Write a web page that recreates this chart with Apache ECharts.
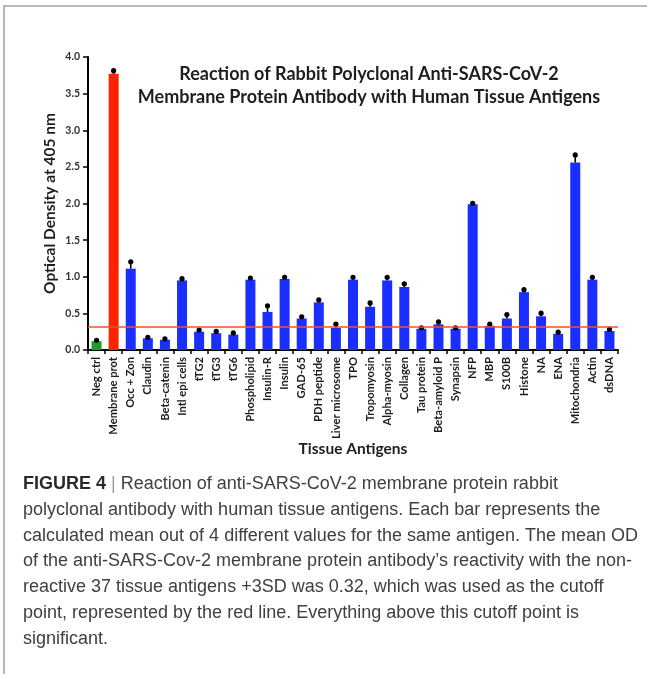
<!DOCTYPE html>
<html>
<head>
<meta charset="utf-8">
<script src="https://cdn.jsdelivr.net/npm/echarts@6/dist/echarts.min.js"></script>
<style>
  html, body { margin: 0; padding: 0; background: #fff; }
  #chart { width: 647px; height: 674px; }
</style>
</head>
<body>
<div id="chart"></div>
<script>
// Tissue antigens tested against the anti-SARS-CoV-2 membrane protein antibody
const antigens = [
  'Neg ctrl', 'Membrane prot', 'Occ + Zon', 'Claudin', 'Beta-catenin', 'Intl epi cells',
  'tTG2', 'tTG3', 'tTG6', 'Phospholipid', 'Insulin-R', 'Insulin', 'GAD-65', 'PDH peptide',
  'Liver microsome', 'TPO', 'Tropomyosin', 'Alpha-myosin', 'Collagen', 'Tau protein',
  'Beta-amyloid P', 'Synapsin', 'NFP', 'MBP', 'S100B', 'Histone', 'NA', 'ENA',
  'Mitochondria', 'Actin', 'dsDNA'
];

// Mean optical density at 405 nm
const meanOD = [
  0.12, 3.77, 1.11, 0.16, 0.14, 0.95,
  0.25, 0.23, 0.21, 0.96, 0.52, 0.97, 0.43, 0.65,
  0.30, 0.96, 0.59, 0.95, 0.86, 0.29,
  0.35, 0.29, 1.99, 0.33, 0.43, 0.79, 0.46, 0.22,
  2.56, 0.96, 0.26
];

// Error bar extent above each mean
const errorOD = [
  0.02, 0.05, 0.10, 0.02, 0.02, 0.03,
  0.03, 0.03, 0.03, 0.03, 0.09, 0.03, 0.03, 0.04,
  0.06, 0.04, 0.06, 0.05, 0.05, 0.02,
  0.04, 0.02, 0.02, 0.03, 0.06, 0.04, 0.05, 0.03,
  0.11, 0.04, 0.03
];

// Cutoff: mean of non-reactive antigens + 3SD
const cutoff = 0.32;

const yTicks = [0, 0.5, 1.0, 1.5, 2.0, 2.5, 3.0, 3.5, 4.0];

const captionLines = [
  'polyclonal antibody with human tissue antigens. Each bar represents the',
  'calculated mean out of 4 different values for the same antigen. The mean OD',
  'of the anti-SARS-Cov-2 membrane protein antibody\u2019s reactivity with the non-',
  'reactive 37 tissue antigens +3SD was 0.32, which was used as the cutoff',
  'point, represented by the red line. Everything above this cutoff point is',
  'significant.'
];

const BLUE = '#1a2eff';
const RED = '#ff2200';
const GREEN = '#16a02c';
const INK = '#1e1e1e';
const titleFont = 'Lato, "Open Sans", sans-serif';
const captionFont = '"Liberation Sans", Arial, sans-serif';
const captionSize = 18;
const captionTop = 475;
const captionStep = 25.8;

function barColor(i) {
  if (i === 0) return GREEN;
  if (i === 1) return RED;
  return BLUE;
}

const chart = echarts.init(document.getElementById('chart'), null, { renderer: 'canvas' });

const captionGraphics = [{
  type: 'text',
  left: 23,
  top: captionTop,
  style: {
    text: '{b|FIGURE 4} {s||} Reaction of anti-SARS-CoV-2 membrane protein rabbit',
    font: '400 ' + captionSize + 'px ' + captionFont,
    fill: '#404040',
    rich: {
      b: { font: '700 ' + captionSize + 'px ' + captionFont, fill: '#2a2a2a' },
      s: { font: '300 ' + captionSize + 'px ' + captionFont, fill: '#9a9a9a' }
    }
  }
}];
captionLines.forEach(function (line, k) {
  captionGraphics.push({
    type: 'text',
    left: 23,
    top: captionTop + (k + 1) * captionStep,
    style: { text: line, font: '400 ' + captionSize + 'px ' + captionFont, fill: '#404040' }
  });
});

const option = {
  backgroundColor: '#ffffff',
  animation: false,
  title: {
    text: 'Reaction of Rabbit Polyclonal Anti-SARS-CoV-2\nMembrane Protein Antibody with Human Tissue Antigens',
    left: 364,
    top: 58,
    textAlign: 'center',
    textStyle: {
      fontFamily: titleFont,
      fontWeight: 'bold',
      fontSize: 18,
      lineHeight: 22.5,
      color: INK
    }
  },
  grid: {
    left: 88, right: 29, top: 57, bottom: 324,
    containLabel: false,
    outerBoundsMode: 'none'
  },
  xAxis: {
    type: 'category',
    data: antigens,
    boundaryGap: true,
    name: 'Tissue Antigens',
    nameLocation: 'middle',
    nameGap: 91,
    nameMoveOverlap: false,
    nameTextStyle: { fontFamily: titleFont, fontWeight: 'bold', fontSize: 15.5, color: INK },
    axisLine: { lineStyle: { color: '#000', width: 2 } },
    axisTick: { show: true, alignWithLabel: false, length: 4, lineStyle: { color: '#000', width: 1.5 } },
    axisLabel: {
      interval: 0,
      rotate: 90,
      margin: 7,
      fontFamily: titleFont,
      fontWeight: 'bold',
      fontSize: 11.2,
      color: INK
    }
  },
  yAxis: {
    type: 'value',
    min: 0,
    max: 4,
    interval: 0.5,
    name: 'Optical Density at 405 nm',
    nameLocation: 'middle',
    nameGap: 30,
    nameMoveOverlap: false,
    nameRotate: 90,
    nameTextStyle: { fontFamily: titleFont, fontWeight: 'bold', fontSize: 15.5, color: INK },
    splitLine: { show: false },
    axisLine: { show: true, lineStyle: { color: '#000', width: 2 } },
    axisTick: { show: true, length: 5, lineStyle: { color: '#000', width: 1.5 } },
    axisLabel: {
      margin: 8,
      fontFamily: titleFont,
      fontWeight: 'bold',
      fontSize: 10.5,
      color: '#333',
      formatter: function (v) {
        return yTicks.indexOf(v) >= 0 ? v.toFixed(1) : '';
      }
    }
  },
  series: [
    {
      type: 'bar',
      data: meanOD,
      barWidth: 10,
      itemStyle: {
        color: function (p) { return barColor(p.dataIndex); }
      },
      markLine: {
        silent: true,
        symbol: ['none', 'none'],
        label: { show: false },
        lineStyle: { color: '#f0522a', width: 1.6, type: 'solid' },
        data: [{ yAxis: cutoff }]
      },
      z: 2
    },
    {
      // Error bars: a short stem with a round black cap
      type: 'custom',
      data: meanOD.map(function (v, i) { return [i, v, v + errorOD[i]]; }),
      encode: { x: 0, y: [1, 2] },
      renderItem: function (params, api) {
        const x = api.value(0);
        const base = api.coord([x, api.value(1)]);
        const top = api.coord([x, api.value(2)]);
        return {
          type: 'group',
          children: [
            {
              type: 'line',
              shape: { x1: base[0], y1: base[1], x2: top[0], y2: top[1] },
              style: { stroke: '#000', lineWidth: 1.6 }
            },
            {
              type: 'circle',
              shape: { cx: top[0], cy: top[1] + 0.5, r: 2.6 },
              style: { fill: '#000' }
            }
          ]
        };
      },
      z: 3
    }
  ],
  graphic: [
    {
      type: 'polyline',
      shape: { points: [[4, 674], [4, 6], [647, 6]] },
      style: { stroke: '#a4a4a4', lineWidth: 1.6, fill: null },
      silent: true
    }
  ].concat(captionGraphics)
};

chart.setOption(option);
</script>
</body>
</html>
